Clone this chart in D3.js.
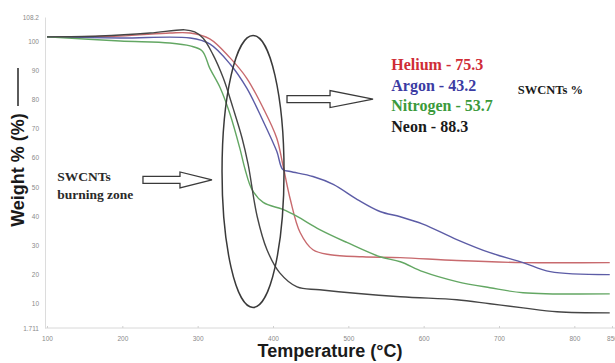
<!DOCTYPE html>
<html>
<head>
<meta charset="utf-8">
<script src="https://cdn.jsdelivr.net/npm/d3@7/dist/d3.min.js"></script>
<style>
  html, body { margin: 0; padding: 0; background: #fff; }
  svg { display: block; }
</style>
</head>
<body>
<svg id="chart" width="615" height="363"></svg>
<script>
// TGA curves: temperature (°C) vs. remaining weight (%)
const heliumT = [100, 197, 263, 290, 316, 343, 365, 387, 405, 413, 423, 436, 453, 476, 519, 569, 644, 732, 847];
const heliumW = [101.4, 101.7, 102.7, 102.7, 100.7, 94.2, 87.3, 77.0, 66.7, 57.7, 45.7, 34.4, 28.5, 26.8, 26.1, 25.8, 24.8, 24.1, 24.1];

const argonT = [100, 197, 290, 316, 343, 365, 387, 405, 413, 423, 453, 480, 512, 542, 569, 599, 644, 688, 732, 768, 847];
const argonW = [101.4, 101.0, 101.0, 99.0, 92.1, 83.9, 72.5, 62.2, 56.0, 55.3, 53.6, 50.9, 45.7, 41.6, 39.8, 37.3, 32.0, 27.5, 24.1, 21.0, 20.0];

const nitrogenT = [100, 197, 263, 290, 306, 316, 330, 343, 356, 363, 372, 387, 413, 432, 462, 498, 542, 569, 599, 644, 688, 732, 847];
const nitrogenW = [101.4, 100.0, 99.3, 98.3, 96.6, 90.7, 83.9, 74.9, 63.2, 56.0, 49.2, 44.7, 42.3, 39.9, 35.4, 31.0, 26.1, 24.4, 21.0, 17.6, 15.5, 13.8, 13.4];

const neonT = [100, 170, 237, 283, 296, 307, 320, 334, 347, 359, 367, 379, 392, 409, 432, 462, 569, 644, 688, 732, 777, 847];
const neonW = [101.4, 101.7, 102.7, 103.8, 103.1, 101.0, 95.5, 87.3, 77.0, 66.7, 57.7, 39.9, 28.5, 20.6, 15.8, 14.8, 12.4, 11.4, 10.0, 8.6, 7.3, 6.9];

const seriesNames = ["Helium", "Argon", "Nitrogen", "Neon"];
const swcntLoss = [75.3, 43.2, 53.7, 88.3];

const xTicks = [100, 200, 300, 400, 500, 600, 700, 800, 850];
const yTicks = [1.711, 10, 20, 30, 40, 50, 60, 70, 80, 90, 100, 108.2];

const lineColors = ["#c86a6e", "#5c5ca6", "#63a763", "#454545"];
const textColors = ["#cf2c36", "#3b3ba3", "#3b9a3b", "#1a1a1a"];

const svg = d3.select("#chart");

const x = d3.scaleLinear().domain([100, 850]).range([47, 612]);
const y = d3.scaleLinear().domain([1.711, 108.2]).range([328, 17]);

// axes
const xAxis = svg.append("g")
  .attr("transform", `translate(0,${y(1.711)})`)
  .call(d3.axisBottom(x).tickValues(xTicks).tickSize(2).tickSizeOuter(0).tickFormat(d3.format("d")));
xAxis.select(".domain").attr("stroke", "#d8d8d8").attr("d", `M${x(100) - 2},0H615`);
xAxis.selectAll(".tick line").attr("stroke", "#d0d0d0").attr("y2", -2);
xAxis.selectAll(".tick text")
  .attr("y", 8).attr("fill", "#8a8a8a")
  .style("font-family", "Arial, 'Liberation Sans', sans-serif").style("font-size", "6.5px");

const yAxis = svg.append("g")
  .attr("transform", `translate(${x(100) - 2},0)`)
  .call(d3.axisLeft(y).tickValues(yTicks).tickSize(0).tickSizeOuter(0)
    .tickFormat(d => (d === 1.711 || d === 108.2) ? String(d) : d3.format("d")(d)));
yAxis.select(".domain").attr("stroke", "#dcdcdc");
yAxis.selectAll(".tick text")
  .attr("x", -6).attr("fill", "#8a8a8a")
  .style("font-family", "Arial, 'Liberation Sans', sans-serif").style("font-size", "6.5px");

// axis titles
svg.append("text")
  .attr("transform", `translate(24,${170}) rotate(-90)`)
  .attr("text-anchor", "middle")
  .style("font-family", "Arial, 'Liberation Sans', sans-serif")
  .style("font-weight", "bold").style("font-size", "18px").attr("fill", "#1a1a1a")
  .text("Weight % (%)");
svg.append("line")
  .attr("x1", 18).attr("x2", 18).attr("y1", 106).attr("y2", 68)
  .attr("stroke", "#333").attr("stroke-width", 1.6);

svg.append("text")
  .attr("x", 330).attr("y", 357)
  .attr("text-anchor", "middle")
  .style("font-family", "Arial, 'Liberation Sans', sans-serif")
  .style("font-weight", "bold").style("font-size", "18px").attr("fill", "#1a1a1a")
  .text("Temperature (°C)");

// curves
const series = [
  { t: heliumT, w: heliumW },
  { t: argonT, w: argonW },
  { t: nitrogenT, w: nitrogenW },
  { t: neonT, w: neonW }
];
const line = d3.line().x(d => x(d[0])).y(d => y(d[1])).curve(d3.curveCatmullRom.alpha(0.5));
series.forEach((s, i) => {
  svg.append("path")
    .datum(s.t.map((t, k) => [t, s.w[k]]))
    .attr("d", line)
    .attr("fill", "none")
    .attr("stroke", lineColors[i])
    .attr("stroke-width", 1.4);
});

// burning-zone ellipse
svg.append("ellipse")
  .attr("cx", x(373.5)).attr("cy", y(55.3))
  .attr("rx", 31).attr("ry", 136)
  .attr("fill", "none").attr("stroke", "#3a3a3a").attr("stroke-width", 1.5);

// hollow block arrows
function blockArrow(x0, x1, yc, shaftHalf, headHalf, headLen) {
  const xs = x1 - headLen;
  return `M${x0},${yc - shaftHalf}L${xs},${yc - shaftHalf}L${xs},${yc - headHalf}L${x1},${yc}` +
         `L${xs},${yc + headHalf}L${xs},${yc + shaftHalf}L${x0},${yc + shaftHalf}Z`;
}
svg.append("path")
  .attr("d", blockArrow(x(418.6), x(532.8), y(80.1), 3.5, 8.5, 43))
  .attr("fill", "#fff").attr("stroke", "#3a3a3a").attr("stroke-width", 1.3);
svg.append("path")
  .attr("d", blockArrow(x(227.4), x(319), y(52.4), 3.5, 8, 32))
  .attr("fill", "#fff").attr("stroke", "#3a3a3a").attr("stroke-width", 1.3);

// annotation text
const serif = "'Liberation Serif', 'Times New Roman', serif";
svg.append("text").attr("x", x(113.5)).attr("y", 181)
  .style("font-family", serif).style("font-weight", "bold").style("font-size", "13.5px")
  .attr("fill", "#2a2a2a").text("SWCNTs");
svg.append("text").attr("x", x(113.5)).attr("y", 199)
  .style("font-family", serif).style("font-weight", "bold").style("font-size", "13.5px")
  .attr("fill", "#2a2a2a").text("burning zone");

seriesNames.forEach((name, i) => {
  svg.append("text")
    .attr("x", x(557)).attr("y", 70 + i * 20.7)
    .style("font-family", serif).style("font-weight", "bold").style("font-size", "16px")
    .attr("fill", textColors[i])
    .text(`${name} - ${swcntLoss[i]}`);
});
svg.append("text").attr("x", x(725)).attr("y", 94)
  .style("font-family", serif).style("font-weight", "bold").style("font-size", "12.5px")
  .attr("fill", "#1a1a1a").text("SWCNTs %");
</script>
</body>
</html>
